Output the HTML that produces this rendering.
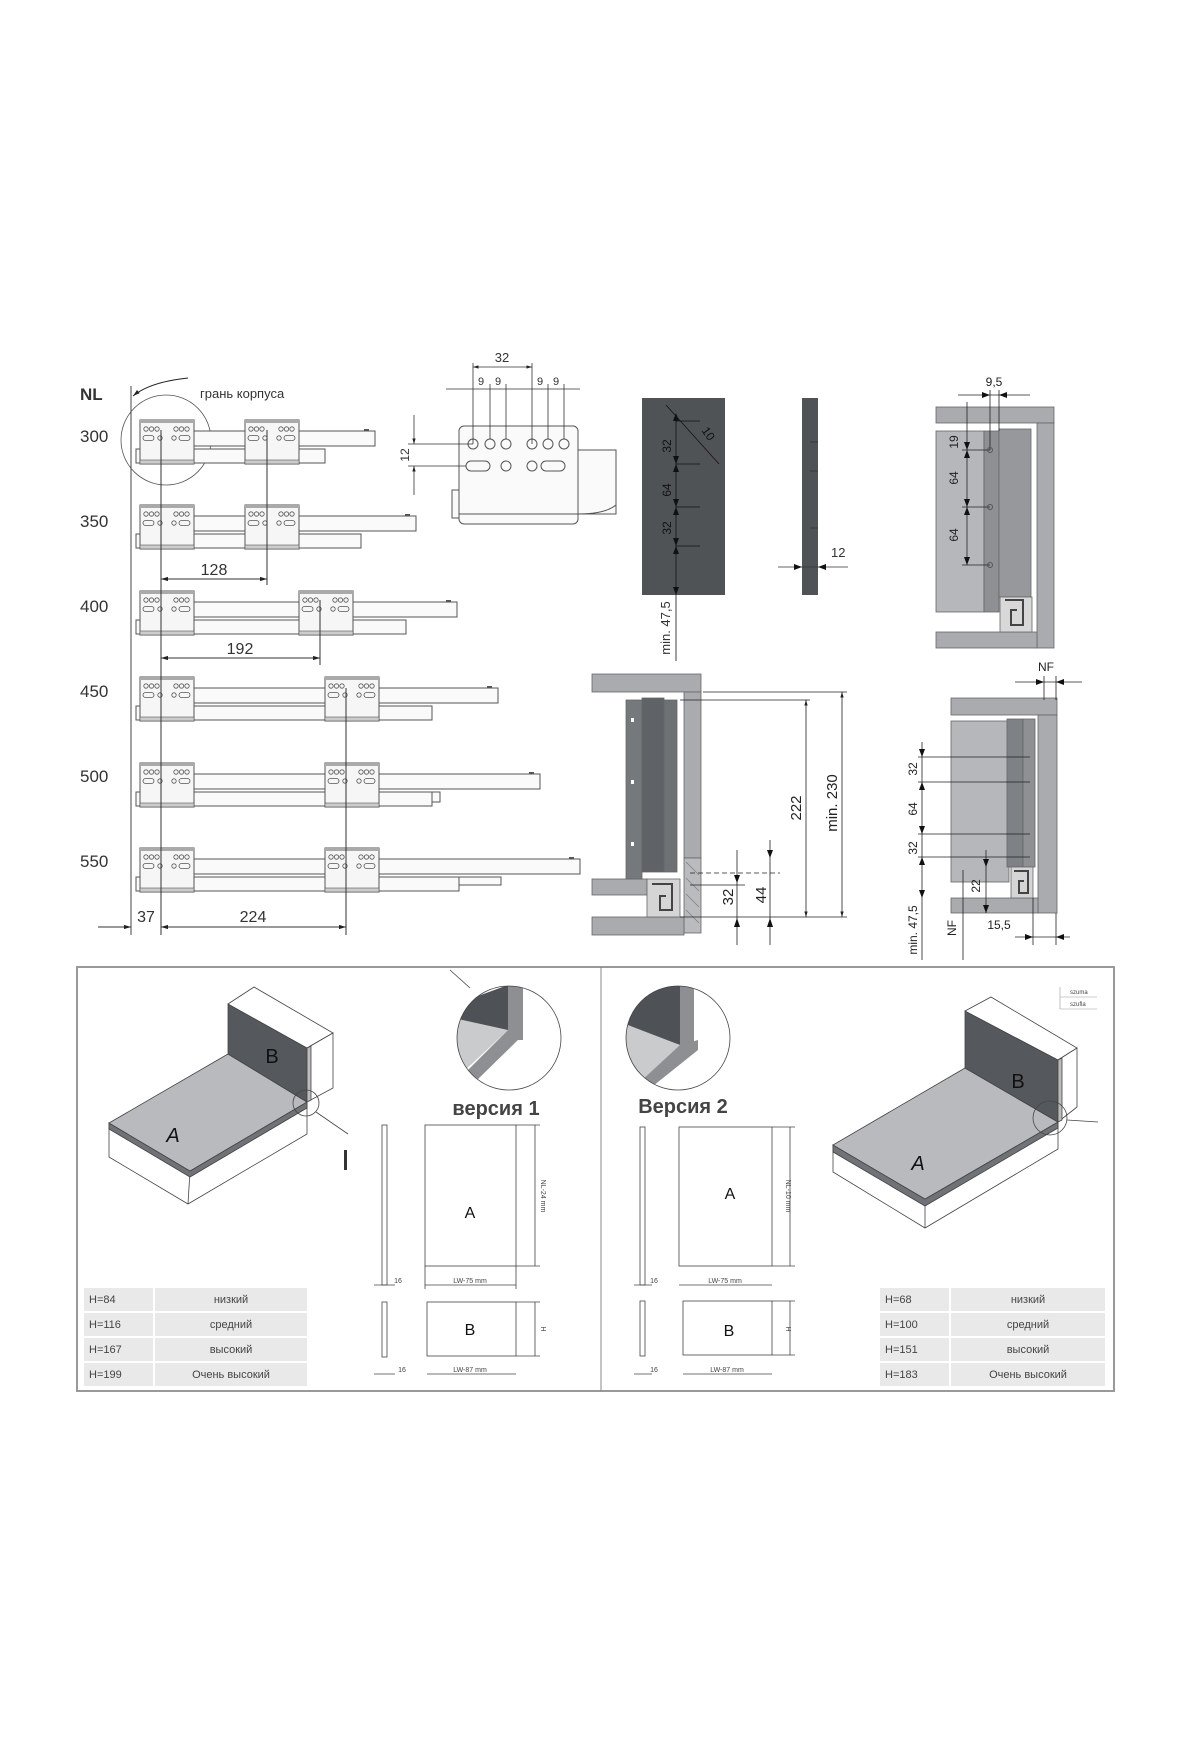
<!DOCTYPE html>
<html><head><meta charset="utf-8"><style>
html,body{margin:0;padding:0;background:#fff}
svg{display:block}
text{font-family:"Liberation Sans","DejaVu Sans",sans-serif}
</style></head><body>
<svg width="1200" height="1760" viewBox="0 0 1200 1760" xmlns="http://www.w3.org/2000/svg">
<defs>
<marker id="ar" viewBox="0 0 10 10" refX="10" refY="5" markerWidth="7" markerHeight="7" orient="auto-start-reverse"><path d="M0,2 L10,5 L0,8 z" fill="#222"/></marker>
<g id="br">
<rect x="0" y="0" width="54" height="44" fill="#f6f6f6" stroke="#555" stroke-width="1"/>
<rect x="0" y="0" width="54" height="3" fill="#aaa"/>
<rect x="0" y="40" width="54" height="4" fill="#ccc" stroke="#555" stroke-width="0.6"/>
<g fill="none" stroke="#555" stroke-width="0.8">
<circle cx="6" cy="9" r="2.2"/><circle cx="11.5" cy="9" r="2.2"/><circle cx="17" cy="9" r="2.2"/>
<circle cx="36" cy="9" r="2.2"/><circle cx="41.5" cy="9" r="2.2"/><circle cx="47" cy="9" r="2.2"/>
<rect x="3" y="15.5" width="11" height="5" rx="2.5"/><circle cx="20" cy="18" r="2.2"/>
<circle cx="34" cy="18" r="2.2"/><rect x="39" y="15.5" width="11" height="5" rx="2.5"/>
</g></g>
<clipPath id="c1"><circle cx="509" cy="1038" r="52"/></clipPath>
<clipPath id="c2"><circle cx="678" cy="1038" r="52"/></clipPath>
</defs>

<!-- ===== LEFT: slide rows ===== -->
<text x="80" y="400" font-size="17" font-weight="bold" fill="#333">NL</text>
<g font-size="17" fill="#333">
<text x="80" y="442">300</text><text x="80" y="527">350</text><text x="80" y="612">400</text>
<text x="80" y="697">450</text><text x="80" y="782">500</text><text x="80" y="867">550</text>
</g>
<text x="200" y="398" font-size="13" fill="#333">грань корпуса</text>
<path d="M188,378 Q150,382 133,396" fill="none" stroke="#222" stroke-width="1" marker-end="url(#ar)"/>
<line x1="131" y1="386" x2="131" y2="935" stroke="#444" stroke-width="1"/>
<circle cx="166" cy="440" r="45" fill="none" stroke="#555" stroke-width="0.8"/>

<g stroke="#555" stroke-width="1" fill="#fafafa">
<!-- row 300 -->
<rect x="176" y="431" width="199" height="15"/><rect x="136" y="449" width="189" height="14"/>
<!-- 350 -->
<rect x="176" y="516" width="240" height="15"/><rect x="136" y="534" width="225" height="14"/>
<!-- 400 -->
<rect x="176" y="602" width="281" height="15"/><rect x="136" y="620" width="270" height="14"/>
<!-- 450 -->
<rect x="176" y="688" width="322" height="15"/><rect x="136" y="706" width="296" height="14"/>
<!-- 500 -->
<rect x="176" y="774" width="364" height="15"/><rect x="136" y="792" width="296" height="14"/><rect x="432" y="792" width="8" height="10"/>
<!-- 550 -->
<rect x="176" y="859" width="404" height="15"/><rect x="136" y="877" width="323" height="14"/><rect x="459" y="877" width="42" height="8"/>
</g>
<g fill="#555">
<rect x="364" y="429" width="5" height="2"/><rect x="405" y="514" width="5" height="2"/><rect x="446" y="600" width="5" height="2"/>
<rect x="487" y="686" width="5" height="2"/><rect x="529" y="772" width="5" height="2"/><rect x="569" y="857" width="5" height="2"/>
</g>
<use href="#br" x="140" y="420"/><use href="#br" x="245" y="420"/>
<use href="#br" x="140" y="505"/><use href="#br" x="245" y="505"/>
<use href="#br" x="140" y="591"/><use href="#br" x="299" y="591"/>
<use href="#br" x="140" y="677"/><use href="#br" x="325" y="677"/>
<use href="#br" x="140" y="763"/><use href="#br" x="325" y="763"/>
<use href="#br" x="140" y="848"/><use href="#br" x="325" y="848"/>

<g stroke="#333" stroke-width="1">
<line x1="161" y1="430" x2="161" y2="935"/>
<line x1="267" y1="430" x2="267" y2="585"/>
<line x1="320" y1="600" x2="320" y2="665"/>
<line x1="346" y1="688" x2="346" y2="935"/>
<line x1="161" y1="579" x2="267" y2="579" marker-start="url(#ar)" marker-end="url(#ar)"/>
<line x1="161" y1="658" x2="320" y2="658" marker-start="url(#ar)" marker-end="url(#ar)"/>
<line x1="98" y1="927" x2="131" y2="927" marker-end="url(#ar)"/>
<line x1="161" y1="927" x2="346" y2="927" marker-start="url(#ar)" marker-end="url(#ar)"/>
</g>
<g font-size="16" fill="#333" text-anchor="middle">
<text x="214" y="575">128</text><text x="240" y="654">192</text>
<text x="146" y="922">37</text><text x="253" y="922">224</text>
</g>

<!-- hole bracket detail -->
<g stroke="#555" stroke-width="1" fill="#fafafa">
<rect x="520" y="450" width="96" height="64"/>
<path d="M578,450 L616,450 L616,505 Q605,514 578,514"/>
<rect x="452" y="490" width="10" height="28"/>
<rect x="459" y="426" width="119" height="98" rx="5"/>
<line x1="459" y1="514" x2="578" y2="514"/>
</g>
<g fill="none" stroke="#555" stroke-width="1">
<circle cx="473" cy="444" r="5"/><circle cx="490" cy="444" r="5"/><circle cx="506" cy="444" r="5"/>
<circle cx="532" cy="444" r="5"/><circle cx="548" cy="444" r="5"/><circle cx="564" cy="444" r="5"/>
<rect x="466" y="461" width="24" height="10" rx="5"/><circle cx="506" cy="466" r="5"/>
<circle cx="532" cy="466" r="5"/><rect x="541" y="461" width="24" height="10" rx="5"/>
</g>
<g stroke="#333" stroke-width="0.8">
<line x1="473" y1="444" x2="473" y2="363"/><line x1="532" y1="444" x2="532" y2="363"/>
<line x1="490" y1="439" x2="490" y2="384"/><line x1="506" y1="439" x2="506" y2="384"/>
<line x1="548" y1="439" x2="548" y2="384"/><line x1="564" y1="439" x2="564" y2="384"/>
<line x1="473" y1="367" x2="532" y2="367" marker-start="url(#ar)" marker-end="url(#ar)"/>
<line x1="446" y1="389" x2="580" y2="389"/>
<line x1="408" y1="444" x2="473" y2="444"/><line x1="408" y1="466" x2="466" y2="466"/>
<line x1="414" y1="415" x2="414" y2="444" marker-end="url(#ar)"/><line x1="414" y1="495" x2="414" y2="466" marker-end="url(#ar)"/>
</g>
<text x="502" y="362" font-size="13" fill="#333" text-anchor="middle">32</text>
<g font-size="11" fill="#333" text-anchor="middle"><text x="481" y="385">9</text><text x="498" y="385">9</text><text x="540" y="385">9</text><text x="556" y="385">9</text></g>
<text x="0" y="0" font-size="12" fill="#333" text-anchor="middle" transform="translate(409,455) rotate(-90)">12</text>

<!-- dark panel -->
<rect x="642" y="398" width="83" height="197" fill="#505356"/>
<g stroke="#111" stroke-width="0.8">
<line x1="676" y1="421" x2="676" y2="661"/>
<line x1="676" y1="421" x2="700" y2="421"/><line x1="676" y1="464" x2="700" y2="464"/><line x1="676" y1="507" x2="700" y2="507"/><line x1="676" y1="546" x2="700" y2="546"/>
<line x1="666" y1="405" x2="719" y2="464"/>
</g>
<g fill="#111"><path d="M673,421 l3,-8 l3,8z"/><path d="M673,456 l3,8 l3,-8z"/><path d="M673,472 l3,-8 l3,8z"/><path d="M673,499 l3,8 l3,-8z"/><path d="M673,515 l3,-8 l3,8z"/><path d="M673,538 l3,8 l3,-8z"/><path d="M673,554 l3,-8 l3,8z"/><path d="M673,587 l3,8 l3,-8z"/></g>
<g font-size="12" fill="#111" text-anchor="middle">
<text transform="translate(671,446) rotate(-90)">32</text><text transform="translate(671,490) rotate(-90)">64</text><text transform="translate(671,528) rotate(-90)">32</text>
<text transform="translate(705,436) rotate(55)">10</text>
</g>
<text transform="translate(670,628) rotate(-90)" font-size="13" fill="#333" text-anchor="middle">min. 47,5</text>
<!-- thin panel -->
<rect x="802" y="398" width="16" height="197" fill="#505356"/>
<g stroke="#333" stroke-width="0.8"><line x1="778" y1="567" x2="848" y2="567"/><line x1="810" y1="442" x2="818" y2="442"/><line x1="810" y1="471" x2="818" y2="471"/><line x1="810" y1="528" x2="818" y2="528"/></g>
<path d="M794,564 l8,3 l-8,3z M826,564 l-8,3 l8,3z" fill="#111"/>
<text x="831" y="557" font-size="13" fill="#333">12</text>

<!-- top-right cabinet -->
<g stroke="#666" stroke-width="0.8">
<rect x="936" y="407" width="118" height="16" fill="#a9abae"/>
<rect x="1037" y="423" width="17" height="225" fill="#a9abae"/>
<rect x="936" y="632" width="101" height="16" fill="#a9abae"/>
<rect x="936" y="431" width="48" height="181" fill="#b5b7ba"/>
<rect x="984" y="431" width="15" height="181" fill="#8e9094"/>
<rect x="999" y="429" width="32" height="168" fill="#96989c"/>
<rect x="1000" y="597" width="32" height="35" fill="#d8d8d8"/>
</g>
<path d="M1005,600 h18 v25 h-12 v-15 h6" fill="none" stroke="#444" stroke-width="2"/>
<g stroke="#222" stroke-width="0.8">
<line x1="958" y1="395" x2="1030" y2="395"/><line x1="990" y1="390" x2="990" y2="450"/><line x1="999" y1="390" x2="999" y2="431"/>
<line x1="967" y1="402" x2="967" y2="565"/>
<line x1="962" y1="450" x2="990" y2="450"/><line x1="962" y1="507" x2="990" y2="507"/><line x1="962" y1="565" x2="990" y2="565"/>
</g>
<path d="M982,392 l8,3 l-8,3z M1007,392 l-8,3 l8,3z" fill="#111"/>
<g fill="none" stroke="#555"><circle cx="990" cy="450" r="2.5"/><circle cx="990" cy="507" r="2.5"/><circle cx="990" cy="565" r="2.5"/></g>
<g fill="#111"><path d="M964,442 l3,8 l3,-8z"/><path d="M964,458 l3,-8 l3,8z"/><path d="M964,499 l3,8 l3,-8z"/><path d="M964,515 l3,-8 l3,8z"/><path d="M964,557 l3,8 l3,-8z"/></g>
<g font-size="12" fill="#222" text-anchor="middle">
<text x="994" y="386">9,5</text>
<text transform="translate(958,442) rotate(-90)">19</text><text transform="translate(958,478) rotate(-90)">64</text><text transform="translate(958,535) rotate(-90)">64</text>
</g>

<!-- bottom-left cabinet -->
<g stroke="#666" stroke-width="0.8">
<rect x="592" y="674" width="109" height="18" fill="#a9abae"/>
<rect x="684" y="692" width="17" height="166" fill="#a9abae"/>
<rect x="684" y="858" width="17" height="75" fill="#b9bbbe"/>
<rect x="592" y="917" width="92" height="18" fill="#a9abae"/>
<rect x="592" y="879" width="55" height="16" fill="#a9abae"/>
<rect x="626" y="700" width="16" height="179" fill="#76797c"/>
<rect x="642" y="698" width="22" height="174" fill="#5f6266"/>
<rect x="664" y="700" width="13" height="172" fill="#6e7174"/>
<rect x="647" y="879" width="33" height="38" fill="#d5d5d5"/>
</g>
<path d="M652,884 h20 v26 h-12 v-14 h6" fill="none" stroke="#444" stroke-width="2"/>
<g fill="#fff"><rect x="631" y="718" width="3" height="4"/><rect x="631" y="780" width="3" height="4"/><rect x="631" y="842" width="3" height="4"/></g>
<g stroke="#777" stroke-width="0.6"><line x1="686" y1="862" x2="699" y2="875"/><line x1="686" y1="878" x2="699" y2="891"/><line x1="686" y1="894" x2="699" y2="907"/><line x1="686" y1="910" x2="699" y2="923"/></g>
<g stroke="#222" stroke-width="0.8">
<line x1="703" y1="692" x2="847" y2="692"/><line x1="680" y1="700" x2="810" y2="700"/><line x1="680" y1="917" x2="847" y2="917"/>
<line x1="806" y1="700" x2="806" y2="917" marker-start="url(#ar)" marker-end="url(#ar)"/>
<line x1="842" y1="692" x2="842" y2="917" marker-start="url(#ar)" marker-end="url(#ar)"/>
<line x1="737" y1="850" x2="737" y2="945"/><line x1="770" y1="840" x2="770" y2="945"/>
<line x1="690" y1="873" x2="780" y2="873" stroke-dasharray="5,3"/><line x1="690" y1="885" x2="745" y2="885"/>
</g>
<g fill="#111"><path d="M734,875 l3,8 l3,-8z"/><path d="M767,850 l3,8 l3,-8z"/><path d="M734,927 l3,-9 l3,9z"/><path d="M767,927 l3,-9 l3,9z"/></g>
<g font-size="15" fill="#222" text-anchor="middle">
<text transform="translate(801,808) rotate(-90)">222</text>
<text transform="translate(837,803) rotate(-90)">min. 230</text>
<text transform="translate(733,897) rotate(-90)">32</text>
<text transform="translate(766,895) rotate(-90)">44</text>
</g>

<!-- bottom-right cabinet -->
<g stroke="#666" stroke-width="0.8">
<rect x="951" y="698" width="106" height="17" fill="#a9abae"/>
<rect x="1038" y="715" width="19" height="198" fill="#a9abae"/>
<rect x="951" y="898" width="87" height="15" fill="#a9abae"/>
<rect x="951" y="721" width="58" height="161" fill="#b5b7ba"/>
<rect x="1007" y="719" width="16" height="148" fill="#7e8185"/>
<rect x="1023" y="719" width="12" height="148" fill="#8e9094"/>
<rect x="1011" y="867" width="22" height="31" fill="#d5d5d5"/>
</g>
<path d="M1014,871 h14 v22 h-9 v-12 h5" fill="none" stroke="#444" stroke-width="2"/>
<g stroke="#222" stroke-width="0.8">
<line x1="1015" y1="682" x2="1082" y2="682"/><line x1="1044" y1="676" x2="1044" y2="700"/><line x1="1056" y1="676" x2="1056" y2="700"/>
<line x1="922" y1="742" x2="922" y2="960"/>
<line x1="918" y1="757" x2="1030" y2="757"/><line x1="918" y1="782" x2="1030" y2="782"/><line x1="918" y1="834" x2="1030" y2="834"/><line x1="918" y1="857" x2="1030" y2="857"/>
<line x1="963" y1="870" x2="963" y2="960"/><line x1="986" y1="850" x2="986" y2="913"/>
<line x1="1015" y1="937" x2="1070" y2="937"/><line x1="1033" y1="898" x2="1033" y2="945"/><line x1="1056" y1="913" x2="1056" y2="945"/>
</g>
<path d="M1036,679 l8,3 l-8,3z M1064,679 l-8,3 l8,3z M1025,934 l8,3 l-8,3z M1064,934 l-8,3 l8,3z" fill="#111"/>
<g fill="#111"><path d="M919,749 l3,8 l3,-8z"/><path d="M919,790 l3,-8 l3,8z"/><path d="M919,826 l3,8 l3,-8z"/><path d="M919,865 l3,-8 l3,8z"/><path d="M919,890 l3,8 l3,-8z"/><path d="M983,859 l3,8 l3,-8z"/><path d="M983,905 l3,8 l3,-8z"/></g>
<g font-size="12" fill="#222" text-anchor="middle">
<text x="1046" y="671">NF</text>
<text transform="translate(917,769) rotate(-90)">32</text><text transform="translate(917,809) rotate(-90)">64</text><text transform="translate(917,848) rotate(-90)">32</text>
<text transform="translate(917,930) rotate(-90)">min. 47,5</text>
<text transform="translate(956,928) rotate(-90)">NF</text>
<text transform="translate(980,886) rotate(-90)">22</text>
<text x="999" y="929">15,5</text>
</g>

<!-- ===== BOTTOM BOX ===== -->
<rect x="77" y="967" width="1037" height="424" fill="none" stroke="#999" stroke-width="2"/>
<line x1="601" y1="967" x2="601" y2="1391" stroke="#888" stroke-width="1"/>

<!-- left iso -->
<g stroke="#444" stroke-width="0.8">
<polygon points="109,1123 190,1171 307,1102 307,1134 188,1204 109,1157" fill="#fff"/>
<line x1="190" y1="1171" x2="188" y2="1204"/>
<polygon points="109,1123 190,1171 307,1102 307,1108 190,1177 109,1129" fill="#6f7276"/>
<polygon points="109,1123 228,1054 307,1102 190,1171" fill="#b8babd"/>
<polygon points="228,1004 307,1048 307,1102 228,1054" fill="#55585c"/>
<polygon points="228,1004 254,987 333,1033 307,1048" fill="#fff"/>
<polygon points="307,1048 333,1033 333,1088 307,1102" fill="#fff"/>
<polygon points="307,1048 311,1046 311,1100 307,1102" fill="#bbb"/>
<circle cx="306" cy="1103" r="13" fill="none"/>
<line x1="316" y1="1112" x2="348" y2="1134"/>
</g>
<rect x="344" y="1150" width="3" height="20" fill="#333"/>
<text x="272" y="1063" font-size="20" fill="#111" text-anchor="middle">B</text>
<text x="173" y="1142" font-size="20" font-style="italic" fill="#111" text-anchor="middle">A</text>

<!-- detail circle 1 -->
<g clip-path="url(#c1)">
<rect x="450" y="980" width="120" height="120" fill="#fff"/>
<polygon points="440,1010 508,985 508,1030 460,1040" fill="#4e5155"/>
<polygon points="440,1015 508,1030 460,1075 440,1080" fill="#c9cbcd"/>
<rect x="508" y="980" width="15" height="60" fill="#8d8f92"/>
<polygon points="508,1030 523,1035 475,1082 462,1076" fill="#8d8f92"/>
</g>
<circle cx="509" cy="1038" r="52" fill="none" stroke="#444" stroke-width="0.8"/>
<line x1="470" y1="988" x2="450" y2="970" stroke="#444" stroke-width="0.8"/>
<text x="496" y="1115" font-size="20" font-weight="bold" fill="#444" text-anchor="middle">версия 1</text>

<g stroke="#444" stroke-width="0.8" fill="none">
<rect x="382" y="1125" width="5" height="160"/><rect x="382" y="1302" width="5" height="55"/>
<rect x="425" y="1125" width="91" height="141"/><line x1="516" y1="1125" x2="540" y2="1125"/><line x1="516" y1="1266" x2="540" y2="1266"/><line x1="535" y1="1125" x2="535" y2="1266"/>
<line x1="425" y1="1266" x2="425" y2="1289"/><line x1="516" y1="1266" x2="516" y2="1289"/><line x1="425" y1="1285" x2="516" y2="1285"/>
<rect x="427" y="1302" width="89" height="54"/><line x1="516" y1="1302" x2="540" y2="1302"/><line x1="516" y1="1356" x2="540" y2="1356"/><line x1="535" y1="1302" x2="535" y2="1356"/>
<line x1="427" y1="1374" x2="516" y2="1374"/>
<line x1="374" y1="1285" x2="395" y2="1285"/><line x1="374" y1="1374" x2="395" y2="1374"/>
</g>
<text x="470" y="1218" font-size="16" fill="#111" text-anchor="middle">A</text>
<text x="470" y="1335" font-size="16" fill="#111" text-anchor="middle">B</text>
<g font-size="7" fill="#444" text-anchor="middle">
<text x="470" y="1283">LW-75 mm</text><text x="470" y="1372">LW-87 mm</text>
<text x="398" y="1283">16</text><text x="402" y="1372">16</text>
<text transform="translate(541,1196) rotate(90)">NL-24 mm</text><text transform="translate(541,1329) rotate(90)">H</text>
</g>

<!-- left table -->
<g fill="#e9e9e9">
<rect x="84" y="1288" width="69" height="23"/><rect x="155" y="1288" width="152" height="23"/>
<rect x="84" y="1313" width="69" height="23"/><rect x="155" y="1313" width="152" height="23"/>
<rect x="84" y="1338" width="69" height="23"/><rect x="155" y="1338" width="152" height="23"/>
<rect x="84" y="1363" width="69" height="23"/><rect x="155" y="1363" width="152" height="23"/>
</g>
<g font-size="11" fill="#444">
<text x="89" y="1303">H=84</text><text x="89" y="1328">H=116</text><text x="89" y="1353">H=167</text><text x="89" y="1378">H=199</text>
</g>
<g font-size="11" fill="#444" text-anchor="middle">
<text x="231" y="1303">низкий</text><text x="231" y="1328">средний</text><text x="231" y="1353">высокий</text><text x="231" y="1378">Очень высокий</text>
</g>

<!-- right half -->
<g clip-path="url(#c2)">
<rect x="620" y="980" width="120" height="120" fill="#fff"/>
<polygon points="620,985 680,985 680,1045 620,1025" fill="#4e5155"/>
<polygon points="620,1022 680,1045 650,1080 620,1080" fill="#c9cbcd"/>
<rect x="680" y="980" width="14" height="65" fill="#8d8f92"/>
<polygon points="680,1045 698,1040 698,1050 648,1090 640,1082" fill="#8d8f92"/>
</g>
<circle cx="678" cy="1038" r="52" fill="none" stroke="#444" stroke-width="0.8"/>
<text x="683" y="1113" font-size="20" font-weight="bold" fill="#444" text-anchor="middle">Версия 2</text>

<g stroke="#444" stroke-width="0.8" fill="none">
<rect x="640" y="1127" width="5" height="158"/><rect x="640" y="1301" width="5" height="55"/>
<rect x="679" y="1127" width="93" height="139"/><line x1="772" y1="1127" x2="795" y2="1127"/><line x1="772" y1="1266" x2="795" y2="1266"/><line x1="790" y1="1127" x2="790" y2="1266"/>
<line x1="679" y1="1285" x2="772" y2="1285"/>
<rect x="683" y="1301" width="89" height="54"/><line x1="772" y1="1301" x2="795" y2="1301"/><line x1="772" y1="1355" x2="795" y2="1355"/><line x1="790" y1="1301" x2="790" y2="1355"/>
<line x1="683" y1="1374" x2="772" y2="1374"/>
<line x1="634" y1="1285" x2="652" y2="1285"/><line x1="634" y1="1374" x2="652" y2="1374"/>
</g>
<text x="730" y="1199" font-size="16" fill="#111" text-anchor="middle">A</text>
<text x="729" y="1336" font-size="16" fill="#111" text-anchor="middle">B</text>
<g font-size="7" fill="#444" text-anchor="middle">
<text x="725" y="1283">LW-75 mm</text><text x="727" y="1372">LW-87 mm</text>
<text x="654" y="1283">16</text><text x="654" y="1372">16</text>
<text transform="translate(786,1196) rotate(90)">NL-10 mm</text><text transform="translate(786,1329) rotate(90)">H</text>
</g>

<!-- right iso -->
<g stroke="#444" stroke-width="0.8">
<polygon points="833,1145 925,1199 1058,1122 1058,1149 925,1228 833,1172" fill="#fff"/>
<line x1="925" y1="1199" x2="925" y2="1228"/>
<polygon points="833,1145 925,1199 1058,1122 1058,1128 925,1206 833,1152" fill="#6f7276"/>
<polygon points="833,1145 965,1068 1058,1122 925,1199" fill="#b8babd"/>
<polygon points="965,1011 1058,1060 1058,1122 965,1068" fill="#55585c"/>
<polygon points="965,1011 991,997 1077,1048 1058,1060" fill="#fff"/>
<polygon points="1058,1060 1077,1048 1077,1107 1058,1122" fill="#fff"/>
<polygon points="1058,1060 1062,1058 1062,1120 1058,1122" fill="#bbb"/>
<circle cx="1050" cy="1118" r="17" fill="none"/>
<line x1="1067" y1="1120" x2="1098" y2="1122"/>
</g>
<text x="1018" y="1088" font-size="20" fill="#111" text-anchor="middle">B</text>
<text x="918" y="1170" font-size="20" font-style="italic" fill="#111" text-anchor="middle">A</text>
<g stroke="#999" stroke-width="0.6"><line x1="1060" y1="997" x2="1097" y2="997"/><line x1="1060" y1="1009" x2="1097" y2="1009"/><line x1="1060" y1="987" x2="1060" y2="1009"/></g>
<g font-size="6" fill="#444"><text x="1070" y="994">szuma</text><text x="1070" y="1006">szufla</text></g>

<!-- right table -->
<g fill="#e9e9e9">
<rect x="880" y="1288" width="69" height="23"/><rect x="951" y="1288" width="154" height="23"/>
<rect x="880" y="1313" width="69" height="23"/><rect x="951" y="1313" width="154" height="23"/>
<rect x="880" y="1338" width="69" height="23"/><rect x="951" y="1338" width="154" height="23"/>
<rect x="880" y="1363" width="69" height="23"/><rect x="951" y="1363" width="154" height="23"/>
</g>
<g font-size="11" fill="#444">
<text x="885" y="1303">H=68</text><text x="885" y="1328">H=100</text><text x="885" y="1353">H=151</text><text x="885" y="1378">H=183</text>
</g>
<g font-size="11" fill="#444" text-anchor="middle">
<text x="1028" y="1303">низкий</text><text x="1028" y="1328">средний</text><text x="1028" y="1353">высокий</text><text x="1028" y="1378">Очень высокий</text>
</g>
</svg>
</body></html>
